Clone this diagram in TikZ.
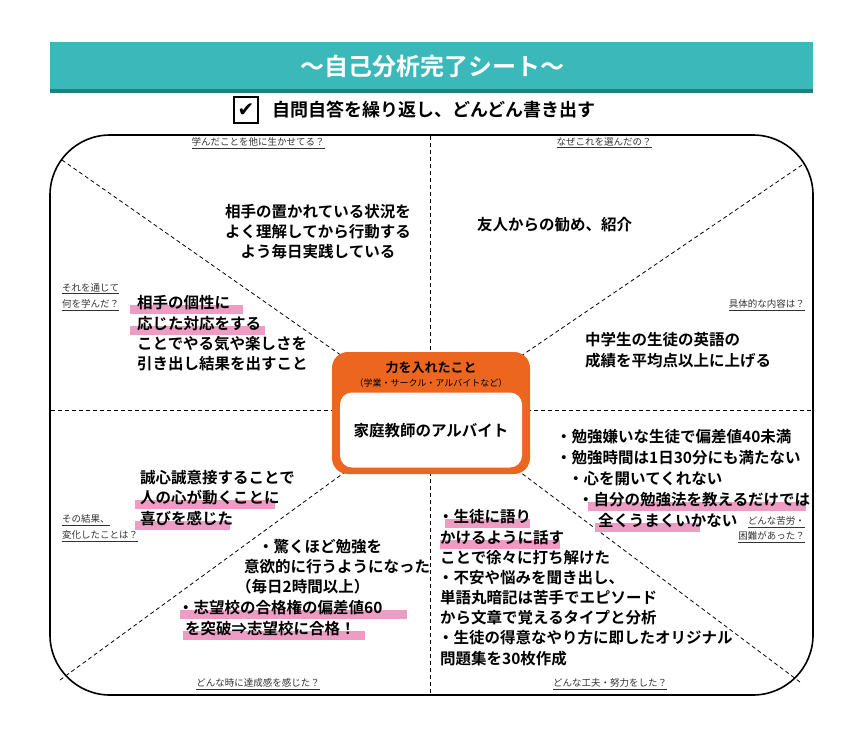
\documentclass[tikz,border=0pt]{standalone}
\usepackage{fontspec}
\setmainfont{Noto Sans CJK JP}[BoldFont={Noto Sans CJK JP Bold}]
\newfontfamily\dejavu{DejaVu Sans}
\definecolor{teal1}{HTML}{3BB8BA}
\definecolor{teal2}{HTML}{23807F}
\definecolor{org}{HTML}{EC661F}
\definecolor{pk}{HTML}{EE9CC4}
\definecolor{gr}{HTML}{333333}
\tikzset{
 txt/.style={inner sep=0pt,anchor=west,font=\bfseries\fontsize{15.5}{18}\selectfont},
 lab/.style={inner sep=0pt,font=\fontsize{9.5}{11}\selectfont,text=gr},
 dsh/.style={dashed,line width=0.8pt,dash pattern=on 4pt off 3pt},
 hl/.style={fill=pk,draw=none}
}
\newcommand{\ul}[1]{\underline{#1}}
\begin{document}
\begin{tikzpicture}[x=1pt,y=-1pt]
\useasboundingbox (0,0) rectangle (860,740);
\fill[white] (0,0) rectangle (860,740);
% header
\fill[teal1] (50,42) rectangle (813,90);
\fill[teal2] (50,89) rectangle (813,93);
\node[inner sep=0pt,text=white,font=\bfseries\fontsize{24}{28}\selectfont] (title) at (432,66) {～自己分析完了シート～};
\node[draw,line width=1.2pt,minimum width=24pt,minimum height=26pt,inner sep=0pt,font=\dejavu\bfseries\fontsize{20}{20}\selectfont] (chk) at (246,110) {✔};
\node[inner sep=0pt,anchor=west,font=\bfseries\fontsize{18}{22}\selectfont] (sub) at (272,110) {自問自答を繰り返し、どんどん書き出す};
% frame
\draw[line width=1.6pt,rounded corners=60pt] (50,135) rectangle (813,695);
% dashed lines
\draw[dsh] (430,136) -- (430,694);
\draw[dsh] (51,410) -- (812,410);
\draw[dsh] (62,160) -- (345,358);
\draw[dsh] (802,165) -- (518,358);
\draw[dsh] (60,680) -- (345,472);
\draw[dsh] (800,682) -- (520,472);
% center box
\node[fill=org,rounded corners=16pt,minimum width=198pt,minimum height=122pt,inner sep=0pt] (cbox) at (431,413) {};
\node[fill=white,rounded corners=12pt,minimum width=182pt,minimum height=75pt,inner sep=0pt] (ibox) at (431,430) {};
\node[inner sep=0pt,font=\bfseries\fontsize{13}{15}\selectfont] (c1) at (431,368) {力を入れたこと};
\node[inner sep=0pt,font=\fontsize{9}{11}\selectfont] (c2) at (431,383) {（学業・サークル・アルバイトなど）};
\node[inner sep=0pt,font=\bfseries\fontsize{15.5}{18}\selectfont] (c3) at (431,431) {家庭教師のアルバイト};
% small labels
\node[lab] (l1) at (258,143) {\ul{学んだことを他に生かせてる？}};
\node[lab] (l2) at (604,143) {\ul{なぜこれを選んだの？}};
\node[lab,anchor=west] (l3) at (62,289) {\ul{それを通じて}};
\node[lab,anchor=west] (l4) at (62,305) {\ul{何を学んだ？}};
\node[lab,anchor=east] (l5) at (805,305) {\ul{具体的な内容は？}};
\node[lab,anchor=west] (l6) at (62,520) {\ul{その結果、}};
\node[lab,anchor=west] (l7) at (62,536) {\ul{変化したことは？}};
\node[lab,anchor=east] (l8) at (805,522) {\ul{どんな苦労・}};
\node[lab,anchor=east] (l9) at (805,537) {\ul{困難があった？}};
\node[lab] (l10) at (258,684) {\ul{どんな時に達成感を感じた？}};
\node[lab] (l11) at (610,684) {\ul{どんな工夫・努力をした？}};
% highlights
\fill[hl] (130,305) rectangle (243,314);
\fill[hl] (130,326) rectangle (265,335);
\fill[hl] (588,502) rectangle (806,511);
\fill[hl] (595,523) rectangle (700,532);
\fill[hl] (135,500) rectangle (275,509);
\fill[hl] (135,521) rectangle (230,530);
\fill[hl] (180,610) rectangle (407,619);
\fill[hl] (183,631) rectangle (365,640);
\fill[hl] (445,519) rectangle (530,528);
\fill[hl] (440,540) rectangle (560,549);
% top-left
\node[inner sep=0pt,align=center,font=\bfseries\fontsize{15.5}{20}\selectfont] (tl) at (318,232) {相手の置かれている状況を\\よく理解してから行動する\\よう毎日実践している};
\node[txt] (a1) at (137,303) {相手の個性に};
\node[txt] (a2) at (137,324) {応じた対応をする};
\node[txt] (a3) at (137,344) {ことでやる気や楽しさを};
\node[txt] (a4) at (137,364) {引き出し結果を出すこと};
% top-right
\node[txt] (b1) at (477,225) {友人からの勧め、紹介};
\node[txt] (b2) at (585,340) {中学生の生徒の英語の};
\node[txt] (b3) at (585,361) {成績を平均点以上に上げる};
% right-middle
\node[txt] (r1) at (556,437) {・勉強嫌いな生徒で偏差値40未満};
\node[txt] (r2) at (556,458) {・勉強時間は1日30分にも満たない};
\node[txt] (r3) at (568,479) {・心を開いてくれない};
\node[txt] (r4) at (578,500) {・自分の勉強法を教えるだけでは};
\node[txt] (r5) at (598,521) {全くうまくいかない};
% left-middle
\node[txt] (m1) at (140,478) {誠心誠意接することで};
\node[txt] (m2) at (140,498) {人の心が動くことに};
\node[txt] (m3) at (140,519) {喜びを感じた};
% bottom-left
\node[txt] (d1) at (258,547) {・驚くほど勉強を};
\node[txt] (d2) at (244,567) {意欲的に行うようになった};
\node[txt] (d3) at (236,587) {（毎日2時間以上）};
\node[txt] (d4) at (178,608) {・志望校の合格権の偏差値60};
\node[txt] (d5) at (185,629) {を突破⇒志望校に合格！};
% bottom-right
\node[txt] (e1) at (438,517) {・生徒に語り};
\node[txt] (e2) at (440,538) {かけるように話す};
\node[txt] (e3) at (440,558) {ことで徐々に打ち解けた};
\node[txt] (e4) at (438,578) {・不安や悩みを聞き出し、};
\node[txt] (e5) at (440,598) {単語丸暗記は苦手でエピソード};
\node[txt] (e6) at (440,618) {から文章で覚えるタイプと分析};
\node[txt] (e7) at (438,638) {・生徒の得意なやり方に即したオリジナル};
\node[txt] (e8) at (440,659) {問題集を30枚作成};
\end{tikzpicture}
\end{document}
